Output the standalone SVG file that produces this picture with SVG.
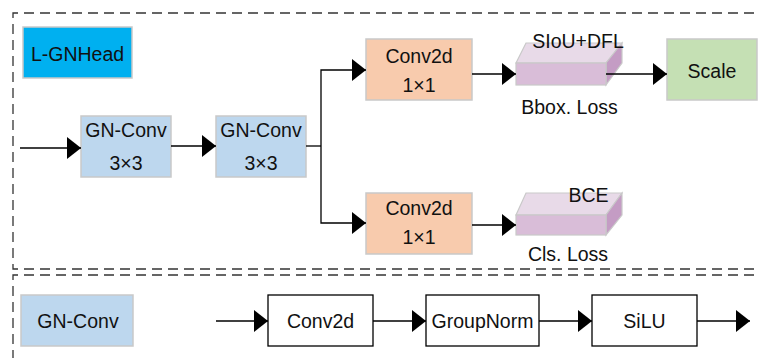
<svg xmlns="http://www.w3.org/2000/svg" width="760" height="358" viewBox="0 0 760 358">
<style>
text{font-family:"Liberation Sans",Arial,sans-serif;font-size:19.5px;fill:#111;text-anchor:middle}
.dash{fill:none;stroke:#333;stroke-width:1.3;stroke-dasharray:10 6}
.blk{stroke:#c9c9c9;stroke-width:1.5}
.gn{fill:#BDD7EE}
.cv{fill:#F8CBAD}
.wb{fill:#fff;stroke:#000;stroke-width:1.3}
.ln{fill:none;stroke:#000;stroke-width:1.3}
.tf{fill:#E8DAE8;stroke:#c9c9c9;stroke-width:1.2}
.ff{fill:#D9BDD8;stroke:#c9c9c9;stroke-width:1.2}
.sf{fill:#C49CC4;stroke:#c9c9c9;stroke-width:1.2}
</style>
<defs>
<marker id="ah" markerUnits="userSpaceOnUse" markerWidth="16" markerHeight="24" refX="14" refY="11" orient="auto">
<path d="M0,0 L14,11 L0,22 Z" fill="#000"/>
</marker>
</defs>
<rect x="0" y="0" width="760" height="358" fill="#fff"/>
<g id="frames">
<path class="dash" d="M770,13 H13 V269 H770"/>
<path class="dash" d="M770,275 H13 V370"/>
</g>
<g id="lgnhead">
<rect class="blk" x="23" y="27" width="109" height="51" fill="#00B0F0"/>
<text x="77.5" y="61">L-GNHead</text>
</g>
<g id="gnconv1">
<rect class="blk gn" x="81" y="116" width="90" height="61"/>
<text x="126" y="137">GN-Conv</text>
<text x="126" y="170">3×3</text>
</g>
<g id="gnconv2">
<rect class="blk gn" x="216" y="116" width="90" height="61"/>
<text x="261" y="137">GN-Conv</text>
<text x="261" y="170">3×3</text>
</g>
<g id="conv2d-top">
<rect class="blk cv" x="366" y="39" width="106" height="61"/>
<text x="419" y="62.5">Conv2d</text>
<text x="419" y="91.5">1×1</text>
</g>
<g id="conv2d-bottom">
<rect class="blk cv" x="366" y="193" width="106" height="61"/>
<text x="419" y="215">Conv2d</text>
<text x="419" y="244">1×1</text>
</g>
<g id="bbox-loss">
<polygon class="tf" points="516,63 526,43 622,43 606,63"/>
<polygon class="sf" points="606,63 622,43 622,63 606,85"/>
<rect class="ff" x="516" y="63" width="90" height="22"/>
<text x="578" y="47.5">SIoU+DFL</text>
<text x="569.5" y="114">Bbox. Loss</text>
</g>
<g id="scale">
<rect class="blk" x="667" y="39" width="90" height="61" fill="#C5E0B4"/>
<text x="712" y="77.5">Scale</text>
</g>
<g id="cls-loss">
<polygon class="tf" points="516,215 526,193 622,193 606,215"/>
<polygon class="sf" points="606,215 622,193 622,215 606,235"/>
<rect class="ff" x="516" y="215" width="90" height="20"/>
<text x="588.5" y="201.5">BCE</text>
<text x="568" y="261">Cls. Loss</text>
</g>
<g id="gnconv-legend">
<rect class="blk gn" x="21" y="295" width="112" height="51"/>
<text x="78" y="327.5">GN-Conv</text>
</g>
<g id="conv2d">
<rect class="wb" x="268" y="295" width="105" height="51"/>
<text x="320.5" y="328">Conv2d</text>
</g>
<g id="groupnorm">
<rect class="wb" x="426" y="295" width="113" height="51"/>
<text x="482.5" y="328">GroupNorm</text>
</g>
<g id="silu">
<rect class="wb" x="592" y="295" width="105" height="51"/>
<text x="644.5" y="328">SiLU</text>
</g>
<g id="connectors">
<path class="ln" d="M20,148 H81" marker-end="url(#ah)"/>
<path class="ln" d="M171,146 H216" marker-end="url(#ah)"/>
<path class="ln" d="M306,146 H321"/>
<path class="ln" d="M321,146 V70 H366" marker-end="url(#ah)"/>
<path class="ln" d="M321,146 V223 H366" marker-end="url(#ah)"/>
<path class="ln" d="M472,74 H516" marker-end="url(#ah)"/>
<path class="ln" d="M472,225 H516" marker-end="url(#ah)"/>
<path class="ln" d="M606,74 H667" marker-end="url(#ah)"/>
<path class="ln" d="M216,321 H268" marker-end="url(#ah)"/>
<path class="ln" d="M373,321 H426" marker-end="url(#ah)"/>
<path class="ln" d="M539,321 H592" marker-end="url(#ah)"/>
<path class="ln" d="M697,321 H750" marker-end="url(#ah)"/>
</g>
</svg>
